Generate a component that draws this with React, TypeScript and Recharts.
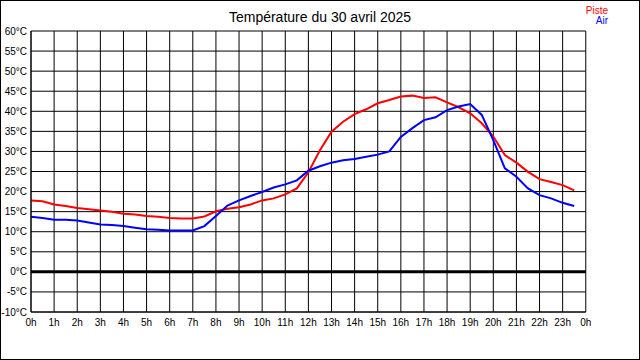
import {
  LineChart,
  Line,
  XAxis,
  YAxis,
  CartesianGrid,
  ReferenceLine,
  Legend,
} from "recharts";

const hours = [
  0, 0.5, 1, 1.5, 2, 2.5, 3, 3.5, 4, 4.5, 5, 5.5, 6, 6.5, 7, 7.5, 8, 8.5, 9,
  9.5, 10, 10.5, 11, 11.5, 12, 12.5, 13, 13.5, 14, 14.5, 15, 15.5, 16, 16.5,
  17, 17.5, 18, 18.5, 19, 19.5, 20, 20.5, 21, 21.5, 22, 22.5, 23, 23.5,
];

const piste = [
  17.8, 17.6, 16.8, 16.4, 15.9, 15.6, 15.3, 15.0, 14.5, 14.3, 13.9, 13.7, 13.4,
  13.3, 13.3, 13.8, 15.1, 15.7, 16.1, 16.8, 17.8, 18.3, 19.3, 20.8, 24.8, 30.3,
  34.9, 37.4, 39.3, 40.5, 42.0, 42.8, 43.7, 43.9, 43.3, 43.5, 42.2, 41.0, 39.5,
  37.0, 33.7, 29.1, 27.2, 24.9, 23.1, 22.4, 21.6, 20.3,
];

const air = [
  13.7, 13.4, 13.0, 13.0, 12.8, 12.3, 11.8, 11.7, 11.4, 11.0, 10.6, 10.5, 10.3,
  10.3, 10.3, 11.4, 13.9, 16.5, 17.8, 18.9, 19.9, 21.0, 21.8, 22.8, 25.2, 26.3,
  27.2, 27.8, 28.1, 28.7, 29.2, 30.0, 33.6, 35.8, 37.8, 38.5, 40.3, 41.2, 41.8,
  39.1, 32.8, 25.8, 23.7, 20.8, 19.1, 18.3, 17.2, 16.4,
];

const xTicks = [
  0, 1, 2, 3, 4, 5, 6, 7, 8, 9, 10, 11, 12, 13, 14, 15, 16, 17, 18, 19, 20, 21,
  22, 23, 24,
];
const yTicks = [-10, -5, 0, 5, 10, 15, 20, 25, 30, 35, 40, 45, 50, 55, 60];

const seriesNames = { piste: "Piste", air: "Air" };

const data = hours.map((h, i) => ({ h, piste: piste[i], air: air[i] }));

const font = "'Liberation Sans', Arial, sans-serif";

const LegendBox = () => (
  <div style={{ fontFamily: font, fontSize: 10, lineHeight: "10px", textAlign: "right" }}>
    <div style={{ color: "#ff0000" }}>{seriesNames.piste}</div>
    <div style={{ color: "#0000ff" }}>{seriesNames.air}</div>
  </div>
);

export default function App() {
  return (
    <div style={{ position: "relative", width: 640, height: 360, background: "#fff" }}>
      <style>{"body{margin:0}"}</style>
      <div
        style={{
          position: "absolute",
          top: 9,
          left: 0,
          width: 640,
          textAlign: "center",
          fontFamily: font,
          fontSize: 14,
          color: "#000",
        }}
      >
        Température du 30 avril 2025
      </div>
      <LineChart
        width={640}
        height={360}
        data={data}
        margin={{ top: 31, right: 32, left: 0, bottom: 0 }}
      >
        <CartesianGrid stroke="#000" strokeOpacity={1} />
        <XAxis
          dataKey="h"
          type="number"
          domain={[0, 24]}
          ticks={xTicks}
          interval={0}
          tickFormatter={(v: number) => `${v % 24}h`}
          tickLine={false}
          axisLine={{ stroke: "#000" }}
          tickSize={5}
          tickMargin={2}
          height={48}
          tick={{ fill: "#000", fontSize: 10, fontFamily: font }}
        />
        <YAxis
          type="number"
          domain={[-10, 60]}
          ticks={yTicks}
          interval={0}
          tickFormatter={(v: number) => `${v}°C`}
          tickLine={false}
          axisLine={{ stroke: "#000" }}
          tickSize={2}
          tickMargin={2}
          width={31}
          tick={{ fill: "#000", fontSize: 10, fontFamily: font }}
        />
        <ReferenceLine y={0} stroke="#000" strokeWidth={3} />
        <Legend
          layout="vertical"
          align="right"
          verticalAlign="top"
          wrapperStyle={{ top: 6, right: 32, left: "auto", width: "auto" }}
          content={() => <LegendBox />}
        />
        <Line
          dataKey="piste"
          type="linear"
          stroke="#ff0000"
          strokeWidth={2}
          dot={false}
          isAnimationActive={false}
        />
        <Line
          dataKey="air"
          type="linear"
          stroke="#0000ff"
          strokeWidth={2}
          dot={false}
          isAnimationActive={false}
        />
      </LineChart>
      <div
        style={{
          position: "absolute",
          inset: 0,
          border: "1px solid #000",
          pointerEvents: "none",
        }}
      />
    </div>
  );
}
